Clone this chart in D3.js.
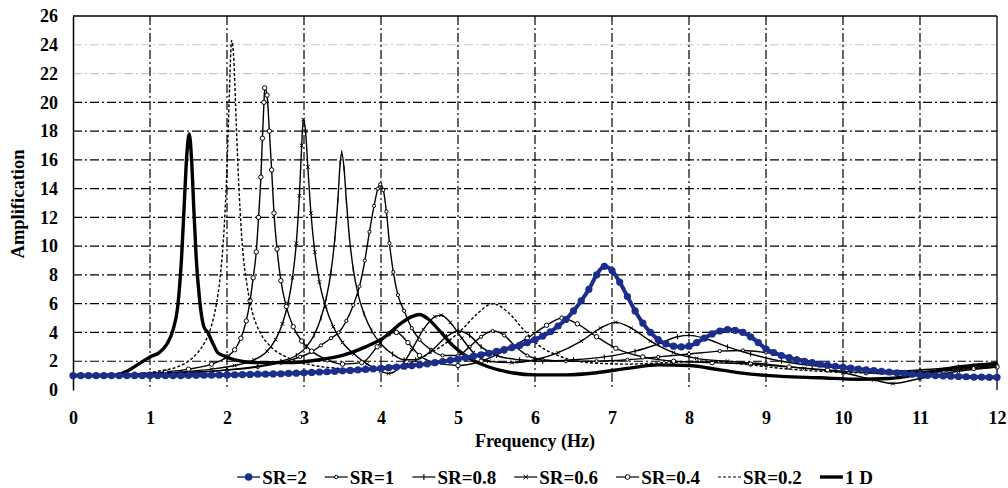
<!DOCTYPE html>
<html><head><meta charset="utf-8">
<script src="https://cdn.jsdelivr.net/npm/d3@7"></script>
<style>
html,body{margin:0;padding:0;background:#fff;}
svg{display:block;}
text{font-family:"Liberation Serif","Times New Roman",serif;font-weight:bold;fill:#000;}
</style></head>
<body>
<svg id="chart" width="1008" height="488"></svg>
<script>
// ---------- data ----------
const xTicks = [0,1,2,3,4,5,6,7,8,9,10,11,12];
const yTicks = [0,2,4,6,8,10,12,14,16,18,20,22,24,26];
const seriesNames = ["SR=2","SR=1","SR=0.8","SR=0.6","SR=0.4","SR=0.2","1 D"];

// SR=2 sampled every 0.1 Hz from 0 to 12
const sr2Values = [
 1.0,1.0,1.0,1.0,1.0,1.0,1.0,1.0,1.0,1.0,1.0,
 1.0,1.0,1.0,1.0,1.02,1.02,1.03,1.03,1.05,1.05,
 1.06,1.07,1.08,1.1,1.1,1.12,1.13,1.15,1.17,1.2,
 1.22,1.25,1.27,1.3,1.33,1.36,1.4,1.43,1.47,1.5,
 1.55,1.6,1.65,1.7,1.75,1.82,1.9,1.98,2.06,2.15,
 2.25,2.35,2.45,2.55,2.68,2.8,2.95,3.1,3.3,3.5,
 3.75,4.05,4.45,4.9,5.5,6.2,7.0,8.0,8.6,8.3,
 7.5,6.5,5.5,4.65,4.0,3.5,3.2,3.05,3.0,3.05,
 3.3,3.6,3.9,4.1,4.2,4.15,4.0,3.7,3.3,2.85,
 2.6,2.4,2.25,2.1,2.0,1.9,1.8,1.72,1.65,1.58,
 1.52,1.46,1.4,1.35,1.3,1.25,1.2,1.15,1.1,1.06,
 1.02,1.0,0.98,0.96,0.94,0.92,0.9,0.9,0.88,0.88
];
const sr2Freq = sr2Values.map((v,i)=>i/10);

const sr1 = [[0,1],[0.4,1.01],[0.8,1.05],[1.2,1.12],[1.6,1.22],[2.0,1.38],[2.4,1.6],[2.7,1.9],[2.95,2.3],[3.1,2.65],[3.22,3.1],[3.35,3.6],[3.45,4.0],[3.55,4.8],[3.64,5.9],[3.72,7.2],[3.79,9.0],[3.85,11.0],[3.91,12.8],[3.96,14.0],[3.99,14.3],[4.03,13.9],[4.07,12.4],[4.11,10.2],[4.16,8.2],[4.22,6.6],[4.3,5.5],[4.4,4.3],[4.5,3.5],[4.65,2.8],[4.8,2.4],[5.0,2.4],[5.15,3.0],[5.3,3.7],[5.45,4.1],[5.6,3.8],[5.75,3.0],[5.9,2.4],[6.1,2.1],[6.4,2.0],[6.8,2.0],[7.2,2.1],[7.6,2.3],[8.0,2.5],[8.4,2.7],[8.7,2.75],[9.0,2.6],[9.4,2.2],[9.8,1.8],[10.2,1.5],[10.6,1.3],[11.0,1.3],[11.5,1.5],[12,1.7]];

const sr08 = [[0,1],[0.5,1.03],[1.0,1.1],[1.5,1.22],[2.0,1.4],[2.4,1.65],[2.7,2.0],[2.9,2.4],[3.03,3.0],[3.13,3.8],[3.22,5.0],[3.29,6.4],[3.35,8.2],[3.4,10.5],[3.44,13.2],[3.47,15.8],[3.49,16.5],[3.52,15.4],[3.55,13.2],[3.59,10.6],[3.64,8.4],[3.7,6.7],[3.78,5.3],[3.88,4.1],[4.0,3.2],[4.15,2.5],[4.3,2.1],[4.45,2.1],[4.65,2.7],[4.85,3.7],[5.0,4.1],[5.15,3.8],[5.3,3.0],[5.5,2.4],[5.8,2.1],[6.1,2.0],[6.5,2.1],[6.9,2.3],[7.3,2.7],[7.6,3.2],[7.85,3.7],[8.0,3.8],[8.2,3.6],[8.5,3.0],[8.8,2.5],[9.2,2.0],[9.6,1.7],[10.0,1.5],[10.5,1.3],[11.0,1.4],[11.5,1.6],[12,1.8]];

const sr06 = [[0,1],[0.5,1.03],[1.0,1.12],[1.4,1.25],[1.8,1.45],[2.1,1.7],[2.35,2.1],[2.52,2.7],[2.63,3.5],[2.72,4.6],[2.79,6.0],[2.85,7.8],[2.9,10.2],[2.94,13.5],[2.97,17.0],[2.99,18.8],[3.02,18.0],[3.05,15.5],[3.09,12.3],[3.14,9.6],[3.2,7.5],[3.28,5.8],[3.38,4.4],[3.5,3.3],[3.65,2.5],[3.82,1.8],[4.0,1.3],[4.1,1.15],[4.25,1.6],[4.4,2.8],[4.55,4.2],[4.7,5.1],[4.78,5.2],[4.9,4.7],[5.05,3.6],[5.2,2.6],[5.4,2.0],[5.7,1.9],[6.0,2.1],[6.3,2.6],[6.6,3.4],[6.85,4.3],[7.05,4.7],[7.25,4.3],[7.5,3.4],[7.8,2.6],[8.1,2.2],[8.5,2.0],[9.0,1.8],[9.5,1.5],[10.0,1.2],[10.4,0.7],[10.65,0.45],[11.0,0.8],[11.5,1.3],[12,1.6]];

const sr04 = [[0,1],[0.4,1.02],[0.8,1.1],[1.2,1.25],[1.5,1.45],[1.8,1.8],[2.0,2.3],[2.1,2.8],[2.18,3.6],[2.25,4.8],[2.3,6.2],[2.34,7.8],[2.38,9.6],[2.41,12.0],[2.44,14.8],[2.46,17.5],[2.48,20.0],[2.49,21.0],[2.52,20.5],[2.55,18.0],[2.58,15.3],[2.61,12.3],[2.65,9.8],[2.7,7.6],[2.77,5.8],[2.86,4.4],[2.97,3.4],[3.1,2.7],[3.3,2.1],[3.5,1.8],[3.75,1.9],[3.95,3.0],[4.1,3.9],[4.2,4.0],[4.35,3.3],[4.5,2.4],[4.7,1.9],[5.0,1.7],[5.3,2.0],[5.6,2.7],[5.9,3.6],[6.15,4.5],[6.35,5.0],[6.55,4.6],[6.8,3.7],[7.05,2.9],[7.4,2.3],[7.8,2.0],[8.3,1.9],[8.8,1.8],[9.3,1.6],[9.8,1.4],[10.3,1.2],[10.8,1.1],[11.3,1.3],[11.7,1.5],[12,1.6]];

const sr02 = [[0,1],[0.4,1.02],[0.8,1.12],[1.1,1.3],[1.35,1.6],[1.5,2.0],[1.62,2.6],[1.72,3.4],[1.8,4.5],[1.86,5.9],[1.91,7.8],[1.96,11.0],[2.0,15.5],[2.03,20.5],[2.06,24.3],[2.09,22.8],[2.12,18.5],[2.16,13.5],[2.2,10.0],[2.26,7.3],[2.33,5.4],[2.43,4.0],[2.57,3.0],[2.77,2.3],[3.05,1.8],[3.45,1.5],[3.9,1.4],[4.2,1.6],[4.5,2.2],[4.8,3.1],[5.05,4.2],[5.25,5.3],[5.45,6.0],[5.65,5.4],[5.85,4.2],[6.05,3.1],[6.3,2.4],[6.7,1.9],[7.2,1.8],[7.7,1.9],[8.2,2.0],[8.7,1.8],[9.2,1.5],[9.7,1.3],[10.2,1.2],[10.7,1.2],[11.2,1.3],[11.6,1.5],[12,1.6]];

const oneD = [[0,1],[0.3,1],[0.55,1.03],[0.7,1.3],[0.85,1.8],[1.0,2.3],[1.12,2.6],[1.22,3.2],[1.3,4.2],[1.36,5.8],[1.41,9.2],[1.45,13.5],[1.48,16.5],[1.51,17.8],[1.54,16.0],[1.57,12.5],[1.6,9.2],[1.64,6.5],[1.7,4.4],[1.75,4.0],[1.82,3.2],[1.88,2.6],[1.95,2.4],[2.1,2.1],[2.4,1.9],[2.8,1.9],[3.2,2.1],[3.5,2.4],[3.8,3.0],[4.05,3.7],[4.25,4.6],[4.4,5.1],[4.5,5.25],[4.62,4.9],[4.78,4.0],[4.95,3.0],[5.15,2.2],[5.4,1.6],[5.7,1.2],[6.0,1.05],[6.4,1.05],[6.8,1.2],[7.2,1.5],[7.6,1.75],[8.0,1.7],[8.4,1.4],[8.8,1.1],[9.2,0.95],[9.7,0.85],[10.2,0.75],[10.6,0.8],[11.0,1.1],[11.5,1.6],[12,1.85]];

// ---------- layout ----------
const svg = d3.select("#chart");
const x = d3.scaleLinear().domain([0,12]).range([73,997]);
const y = d3.scaleLinear().domain([0,26]).range([390,16]);
const navy = "#1c2d8c";

// grid
const grid = svg.append("g");
grid.selectAll(".hg").data(yTicks.filter(v=>v>0 && v<26)).join("line")
  .attr("x1",x(0)).attr("x2",x(12)).attr("y1",d=>y(d)).attr("y2",d=>y(d))
  .attr("stroke",d=>d>=22?"#c8c8c8":"#000").attr("stroke-width",1.2)
  .attr("stroke-dasharray","9,3,2,3");
grid.selectAll(".vg").data(xTicks.filter(v=>v>0 && v<12)).join("line")
  .attr("x1",d=>x(d)).attr("x2",d=>x(d)).attr("y1",y(26)).attr("y2",y(0)-2)
  .attr("stroke","#000").attr("stroke-width",1.2)
  .attr("stroke-dasharray","9,3,2,3");
svg.append("line").attr("x1",x(0)).attr("x2",x(12)).attr("y1",y(26)).attr("y2",y(26)).attr("stroke","#000").attr("stroke-width",1.3);
svg.append("line").attr("x1",x(12)).attr("x2",x(12)).attr("y1",y(26)).attr("y2",y(0)).attr("stroke","#000").attr("stroke-width",1.3);

// axes
const yAxis = svg.append("g").attr("transform",`translate(${x(0)},0)`)
  .call(d3.axisLeft(y).tickValues(yTicks).tickFormat(d3.format("d")).tickSize(0).tickPadding(15));
yAxis.select(".domain").attr("stroke","#000").attr("stroke-width",1.5);
yAxis.selectAll("text").style("font-size","18px").style("font-family","Liberation Serif").style("font-weight","bold");

const xAxis = svg.append("g").attr("transform",`translate(0,${y(0)})`)
  .call(d3.axisBottom(x).tickValues(xTicks).tickFormat(d3.format("d")).tickSize(0).tickPadding(21));
xAxis.select(".domain").remove();
xAxis.selectAll("text").style("font-size","18px").style("font-family","Liberation Serif").style("font-weight","bold");

svg.append("text").attr("x",535).attr("y",447).attr("text-anchor","middle")
  .style("font-size","18px").text("Frequency (Hz)");
svg.append("text").attr("transform","translate(24,204) rotate(-90)").attr("text-anchor","middle")
  .style("font-size","18.5px").text("Amplification");

// ---------- series ----------
const line = d3.line().x(d=>x(d[0])).y(d=>y(d[1])).curve(d3.curveMonotoneX);
const plot = svg.append("g");

// draw markers at pixel positions given by fx, fy
function marker(g, type, pts, size, fx, fy){
  if(type==="circle"){
    g.selectAll("circle").data(pts).join("circle")
      .attr("cx",fx).attr("cy",fy).attr("r",size)
      .attr("fill","#fff").attr("stroke","#000").attr("stroke-width",1);
  } else if(type==="plus"){
    g.selectAll("path").data(pts).join("path")
      .attr("d",d=>`M${fx(d)},${fy(d)-size}V${fy(d)+size}`)
      .attr("stroke","#000").attr("stroke-width",1.1);
  } else if(type==="cross"){
    g.selectAll("path").data(pts).join("path")
      .attr("d",d=>{const cx=fx(d),cy=fy(d);return `M${cx-size},${cy-size}L${cx+size},${cy+size}M${cx-size},${cy+size}L${cx+size},${cy-size}`;})
      .attr("stroke","#000").attr("stroke-width",1);
  }
}
const px = d=>x(d[0]), py = d=>y(d[1]);

const blackSeries = [
  {name:"SR=1", data:sr1, w:1.4, dash:null, mk:"circle", ms:1.6},
  {name:"SR=0.8", data:sr08, w:1.4, dash:null, mk:"plus", ms:2.5},
  {name:"SR=0.6", data:sr06, w:1.4, dash:null, mk:"cross", ms:1.8},
  {name:"SR=0.4", data:sr04, w:1.4, dash:null, mk:"circle", ms:2.2},
  {name:"SR=0.2", data:sr02, w:1.4, dash:"3,2", mk:null},
  {name:"1 D", data:oneD, w:3.4, dash:null, mk:null}
];
blackSeries.forEach(s=>{
  const g = plot.append("g");
  g.append("path").datum(s.data).attr("d",line).attr("fill","none")
    .attr("stroke","#000").attr("stroke-width",s.w).attr("stroke-dasharray",s.dash);
  if(s.mk) marker(g.append("g"), s.mk, s.data, s.ms, px, py);
});
const sr2 = sr2Freq.map((f,i)=>[f,sr2Values[i]]);
const g2 = plot.append("g");
g2.append("path").datum(sr2).attr("d",line).attr("fill","none").attr("stroke",navy).attr("stroke-width",4);
g2.selectAll("circle").data(sr2).join("circle")
  .attr("cx",px).attr("cy",py).attr("r",3.6).attr("fill",navy);

// ---------- legend ----------
const lg = svg.append("g");
const styles = {
  "SR=2":{c:navy,w:1.5,dash:null,mk:"dot"},
  "SR=1":{c:"#000",w:1.2,dash:null,mk:"circle",ms:1.7},
  "SR=0.8":{c:"#000",w:1.2,dash:null,mk:"plus",ms:3},
  "SR=0.6":{c:"#000",w:1.2,dash:null,mk:"cross",ms:2.2},
  "SR=0.4":{c:"#000",w:1.2,dash:null,mk:"circle",ms:2.3},
  "SR=0.2":{c:"#000",w:1.2,dash:"3,2",mk:null},
  "1 D":{c:"#000",w:3.4,dash:null,mk:null}
};
let cx = 0;
const items = [];
seriesNames.forEach(n=>{
  const it = lg.append("g");
  const st = styles[n];
  it.append("line").attr("x1",0).attr("x2",23).attr("y1",0).attr("y2",0)
    .attr("stroke",st.c).attr("stroke-width",st.w).attr("stroke-dasharray",st.dash);
  if(st.mk==="dot") it.append("circle").attr("cx",11.5).attr("cy",0).attr("r",3.8).attr("fill",navy);
  else if(st.mk) marker(it.append("g"), st.mk, [0], st.ms, ()=>11.5, ()=>0);
  const t = it.append("text").attr("x",25).attr("y",6.5).style("font-size","19px").text(n);
  const w = 25 + t.node().getComputedTextLength();
  items.push({g:it,off:cx});
  cx += w + 18;
});
const total = cx - 18;
const start = 555 - total/2;
items.forEach(it=>it.g.attr("transform",`translate(${start+it.off},477)`));
</script>
</body></html>
